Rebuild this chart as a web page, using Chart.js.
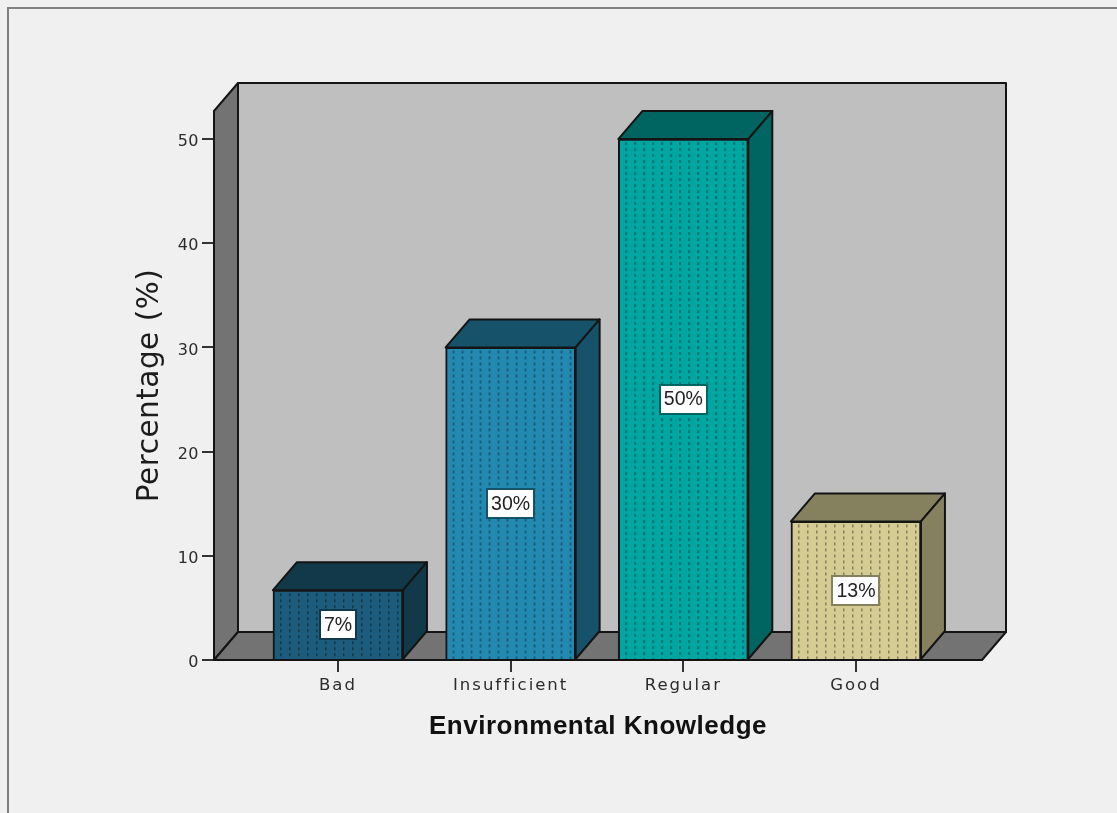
<!DOCTYPE html>
<html>
<head>
<meta charset="utf-8">
<style>
  html, body { margin: 0; padding: 0; background: #f0f0f0; overflow: hidden; }
  #wrap { width: 1117px; height: 813px; }
</style>
<script src="https://cdn.jsdelivr.net/npm/chart.js@4/dist/chart.umd.min.js"></script>
</head>
<body>
<div id="wrap"><canvas id="chart" width="1117" height="813"></canvas></div>
<script>
const categories = ['Bad', 'Insufficient', 'Regular', 'Good'];
const percentages = [6.7, 30, 50, 13.3];
const frontColors = ['#1d5c7c', '#2389b0', '#00a6a2', '#d5cc93'];
const shadeColors = ['#12394a', '#16536b', '#006460', '#85805e'];
const yTicks = [0, 10, 20, 30, 40, 50];

const DEPTH_X = 24, DEPTH_Y = 28;
const INK = '#141414';

// One tile of the dotted vertical hatch, shifted so each bar starts its own columns.
function hatch(ctx, base, dash, originX, originY) {
  const tile = document.createElement('canvas');
  tile.width = 9; tile.height = 6;
  const t = tile.getContext('2d');
  t.fillStyle = base;
  t.fillRect(0, 0, 9, 6);
  t.fillStyle = dash;
  t.fillRect(0, 0, 1.5, 3);
  const pattern = ctx.createPattern(tile, 'repeat');
  pattern.setTransform(new DOMMatrix().translate(originX, originY));
  return pattern;
}

function poly(ctx, pts, fill) {
  ctx.beginPath();
  pts.forEach((p, i) => i ? ctx.lineTo(p[0], p[1]) : ctx.moveTo(p[0], p[1]));
  ctx.closePath();
  ctx.fillStyle = fill;
  ctx.fill();
  ctx.strokeStyle = INK;
  ctx.lineWidth = 2;
  ctx.lineJoin = 'round';
  ctx.stroke();
}

// Panel frame, the box walls and the extruded faces of the bars.
const boxPlugin = {
  id: 'box3d',
  beforeDraw(chart) {
    const ctx = chart.ctx;
    ctx.save();
    ctx.fillStyle = '#f0f0f0';
    ctx.fillRect(0, 0, chart.width, chart.height);
    ctx.strokeStyle = '#808080';
    ctx.lineWidth = 2;
    ctx.beginPath();
    ctx.moveTo(8, chart.height + 2);
    ctx.lineTo(8, 8);
    ctx.lineTo(chart.width + 2, 8);
    ctx.stroke();
    ctx.restore();
    ctx.letterSpacing = '0.5px';
  },
  beforeDatasetsDraw(chart) {
    const ctx = chart.ctx;
    const { left, right, top, bottom } = chart.chartArea;
    ctx.save();
    poly(ctx, [[left + DEPTH_X, top - DEPTH_Y], [right + DEPTH_X, top - DEPTH_Y],
               [right + DEPTH_X, bottom - DEPTH_Y], [left + DEPTH_X, bottom - DEPTH_Y]], '#bfbfbf');
    poly(ctx, [[left, top], [left + DEPTH_X, top - DEPTH_Y],
               [left + DEPTH_X, bottom - DEPTH_Y], [left, bottom]], '#737373');
    poly(ctx, [[left, bottom], [right, bottom],
               [right + DEPTH_X, bottom - DEPTH_Y], [left + DEPTH_X, bottom - DEPTH_Y]], '#737373');
    chart.getDatasetMeta(0).data.forEach((bar, i) => {
      const { x, y, base, width } = bar.getProps(['x', 'y', 'base', 'width'], true);
      const l = x - width / 2, r = x + width / 2;
      poly(ctx, [[l, y], [l + DEPTH_X, y - DEPTH_Y], [r + DEPTH_X, y - DEPTH_Y], [r, y]], shadeColors[i]);
      poly(ctx, [[r, y], [r + DEPTH_X, y - DEPTH_Y], [r + DEPTH_X, base - DEPTH_Y], [r, base]], shadeColors[i]);
    });
    ctx.restore();
  },
  afterDatasetsDraw(chart) {
    const ctx = chart.ctx;
    ctx.save();
    ctx.letterSpacing = '0px';
    ctx.font = '19.5px "Liberation Sans", Arial, sans-serif';
    ctx.textAlign = 'center';
    ctx.textBaseline = 'middle';
    chart.getDatasetMeta(0).data.forEach((bar, i) => {
      const { x, y, base } = bar.getProps(['x', 'y', 'base'], true);
      const cy = (y + base) / 2;
      const text = Math.round(percentages[i]) + '%';
      const w = Math.round(ctx.measureText(text).width) + 10, h = 31;
      const bx = Math.round(x - w / 2), by = Math.round(cy - h / 2);
      ctx.fillStyle = '#ffffff';
      ctx.fillRect(bx, by, w, h);
      ctx.strokeStyle = shadeColors[i];
      ctx.lineWidth = 2;
      ctx.strokeRect(bx + 1, by + 1, w - 2, h - 2);
      ctx.fillStyle = '#222222';
      ctx.fillText(text, x, cy + 1);
    });
    ctx.restore();
    // The category labels draw after this hook and are set wider than the rest.
    ctx.letterSpacing = '2px';
  }
};

const ctx = document.getElementById('chart').getContext('2d');
new Chart(ctx, {
  type: 'bar',
  data: {
    labels: categories,
    datasets: [{
      label: 'Percentage (%)',
      data: percentages.map((v, i) => ({ x: i, y: v })),
      backgroundColor(c) {
        const chart = c.chart;
        const xs = chart.scales.x, ys = chart.scales.y;
        if (!xs || !ys || c.dataIndex === undefined) return frontColors[0];
        const i = c.dataIndex;
        const left = xs.getPixelForValue(i) - 65;
        return hatch(chart.ctx, frontColors[i], shadeColors[i], left + 7, ys.getPixelForValue(percentages[i]) + 3);
      },
      borderColor: INK,
      borderWidth: 2,
      barThickness: 130
    }]
  },
  options: {
    responsive: false,
    animation: false,
    layout: { padding: { top: 111, right: 135, left: 0, bottom: 0 } },
    plugins: { legend: { display: false }, tooltip: { enabled: false }, title: { display: false } },
    scales: {
      x: {
        type: 'linear',
        offset: false,
        min: -0.718,
        max: 3.73,
        afterFit(scale) { scale.height = 153; },
        afterBuildTicks(scale) { scale.ticks = categories.map((_, i) => ({ value: i })); },
        grid: { display: true, drawOnChartArea: false, offset: false, tickLength: 12, tickColor: '#333333', tickWidth: 2, lineWidth: 2, color: '#333333' },
        border: { display: false },
        ticks: {
          z: 1,
          autoSkip: false, maxRotation: 0, minRotation: 0, padding: 4,
          color: '#2b2b2b',
          font: { family: '"DejaVu Sans", Verdana, sans-serif', size: 16.5 },
          callback: v => categories[v]
        },
        title: {
          display: true,
          text: 'Environmental Knowledge',
          color: '#111111',
          font: { family: '"Liberation Sans", Arial, sans-serif', size: 26, weight: 'bold' },
          padding: { top: 0, bottom: 71 }
        }
      },
      y: {
        min: 0,
        max: 52.69,
        afterFit(scale) { scale.width = 214; },
        afterBuildTicks(scale) { scale.ticks = yTicks.map(v => ({ value: v })); },
        grid: { display: true, drawOnChartArea: false, tickLength: 12, tickColor: '#333333', tickWidth: 2, lineWidth: 2, color: '#333333' },
        border: { display: false },
        ticks: {
          padding: 3,
          labelOffset: 3,
          color: '#2b2b2b',
          font: { family: '"DejaVu Sans", Verdana, sans-serif', size: 16 }
        },
        title: {
          display: true,
          text: 'Percentage (%)',
          color: '#1c1c1c',
          font: { family: '"DejaVu Sans", Verdana, sans-serif', size: 29.5 },
          padding: { top: 133, bottom: 0 }
        }
      }
    }
  },
  plugins: [boxPlugin]
});
</script>
</body>
</html>
